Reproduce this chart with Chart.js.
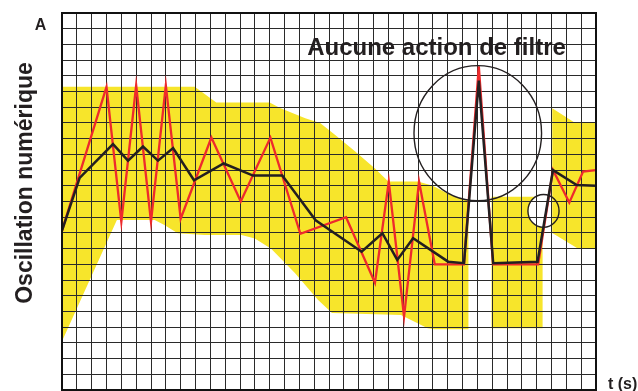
<!DOCTYPE html>
<html lang="fr">
<head>
<meta charset="utf-8">
<title>Oscillation numérique</title>
<script src="https://cdn.jsdelivr.net/npm/chart.js@4.4.1/dist/chart.umd.min.js"></script>
<style>
    html, body { margin: 0; padding: 0; background: #fff; }
    canvas { display: block; }
</style>
</head>
<body>
<canvas id="oscChart" width="638" height="391"></canvas>
<script>
// Grid: 36 time columns x 24 amplitude rows
const tMax = 36;
const aMax = 24;

// Red trace - raw signal
const rawT = [0, 3, 4, 5, 6, 7, 8, 10.07, 12.05, 14.05, 16.07, 19.15, 21.1, 22.03, 23.06, 24.07, 25.13, 27.1, 28.1, 29.06, 32.1, 33.1, 34.2, 35.13, 36];
const rawA = [10.15, 19.3, 10.7, 19.4, 10.7, 19.4, 10.9, 16.07, 12.0, 16.07, 9.94, 11.0, 6.83, 13.27, 4.67, 13.27, 8.0, 8.0, 20.6, 8.0, 8.0, 14.0, 11.93, 13.9, 14.0];

// Black trace - filtered signal
const filtT = [0, 1.19, 3.44, 4.45, 5.46, 6.47, 7.49, 8.9, 10.9, 12.88, 14.85, 17.1, 20.2, 21.6, 22.6, 23.67, 26.03, 27.1, 28.1, 29.07, 32.06, 33.1, 34.7, 36];
const filtA = [10.15, 13.5, 15.65, 14.6, 15.5, 14.6, 15.4, 13.35, 14.42, 13.65, 13.65, 10.8, 8.8, 9.98, 8.28, 9.66, 8.17, 8.07, 19.7, 8.07, 8.17, 14.0, 13.05, 13.0];

// Yellow tolerance band, three closed shapes
const bandMainT = [0, 8.95, 10.4, 14.0, 14.7, 16.4, 17.4, 18.4, 19.75, 21.1, 22.0, 24.0, 25.0, 25.8, 26.6, 27.4, 27.4, 25.1, 24.65, 22.85, 18.2, 17.25, 15.7, 14.1, 13.0, 12.1, 9.6, 7.8, 6.9, 6.25, 3.7, 0];
const bandMainA = [19.3, 19.3, 18.3, 18.3, 17.95, 17.3, 17.0, 16.25, 15.2, 14.1, 13.27, 13.27, 13.0, 12.6, 12.25, 12.05, 3.87, 3.87, 3.93, 4.78, 4.9, 5.75, 7.45, 9.0, 9.65, 9.87, 9.87, 9.98, 10.5, 10.83, 10.83, 3.1];
const bandMidT = [28.96, 31.88, 31.55, 31.42, 31.5, 31.75, 32.05, 32.4, 32.4, 28.96];
const bandMidA = [12.3, 12.3, 11.9, 11.4, 10.9, 10.6, 10.42, 10.36, 3.93, 3.93];
const bandRightT = [33.05, 34.6, 36, 36, 34.8, 33.05];
const bandRightA = [17.94, 17.0, 17.0, 9.0, 9.0, 10.0];

// Highlight rings (centre t, centre a, radius in grid units)
const ringT = [28.03, 32.46];
const ringA = [16.35, 11.4];
const ringR = [4.3, 1.05];

const colors = {
    band: '#F7E52B',
    raw: '#EE2A2C',
    filt: '#231F20',
    grid: '#2a2a2a',
    ink: '#231F20'
};

const toPoints = (xs, ys) => xs.map((x, i) => ({ x: x, y: ys[i] }));

const bandSet = (xs, ys) => ({
    data: toPoints(xs, ys),
    backgroundColor: colors.band,
    borderWidth: 0,
    pointRadius: 0,
    fill: 'shape',
    order: 3
});

const overlay = {
    id: 'overlay',
    afterDatasetsDraw(chart) {
        const { ctx, scales: { x, y } } = chart;
        ctx.save();
        ctx.strokeStyle = colors.ink;
        ctx.lineWidth = 1.4;
        ringT.forEach((t, i) => {
            const cx = x.getPixelForValue(t);
            const cy = y.getPixelForValue(ringA[i]);
            const rx = x.getPixelForValue(t + ringR[i]) - cx;
            const ry = cy - y.getPixelForValue(ringA[i] + ringR[i]);
            ctx.beginPath();
            ctx.ellipse(cx, cy, rx, ry, 0, 0, Math.PI * 2);
            ctx.stroke();
        });
        ctx.restore();
    },
    afterDraw(chart) {
        const { ctx, chartArea: a } = chart;
        ctx.save();
        // frame
        ctx.strokeStyle = '#111';
        ctx.lineWidth = 2;
        ctx.strokeRect(a.left, a.top, a.right - a.left, a.bottom - a.top);

        ctx.fillStyle = colors.ink;
        ctx.textAlign = 'center';
        ctx.textBaseline = 'alphabetic';
        ctx.font = 'bold 16px "Liberation Sans", Arial, sans-serif';
        ctx.fillText('A', 40.5, 30);

        ctx.font = 'bold 24px "Liberation Sans", Arial, sans-serif';
        ctx.fillText('Aucune action de filtre', 436.5, 55);

        ctx.textAlign = 'left';
        ctx.font = 'bold 16px "Liberation Sans", Arial, sans-serif';
        ctx.fillText('t (s)', 608, 389);

        ctx.translate(31.5, 183);
        ctx.rotate(-Math.PI / 2);
        ctx.textAlign = 'center';
        ctx.font = 'bold 23px "Liberation Sans", Arial, sans-serif';
        ctx.fillText('Oscillation numérique', 0, 0);
        ctx.restore();
    }
};

const ctx = document.getElementById('oscChart').getContext('2d');
new Chart(ctx, {
    type: 'line',
    data: {
        datasets: [
            {
                data: toPoints(filtT, filtA),
                borderColor: colors.filt,
                borderWidth: 2.5,
                pointRadius: 0,
                fill: false,
                tension: 0,
                order: 1
            },
            {
                data: toPoints(rawT, rawA),
                borderColor: colors.raw,
                borderWidth: 2.3,
                pointRadius: 0,
                fill: false,
                tension: 0,
                order: 2
            },
            bandSet(bandMainT, bandMainA),
            bandSet(bandMidT, bandMidA),
            bandSet(bandRightT, bandRightA)
        ]
    },
    options: {
        responsive: false,
        devicePixelRatio: 1,
        animation: false,
        layout: {
            padding: { left: 62, top: 13, right: 42, bottom: 1 }
        },
        scales: {
            x: {
                type: 'linear',
                min: 0,
                max: tMax,
                ticks: { display: false, stepSize: 1 },
                grid: { color: colors.grid, lineWidth: 1, drawTicks: false },
                border: { display: false }
            },
            y: {
                type: 'linear',
                min: 0,
                max: aMax,
                ticks: { display: false, stepSize: 1 },
                grid: { color: colors.grid, lineWidth: 1, drawTicks: false },
                border: { display: false }
            }
        },
        plugins: {
            filler: { drawTime: 'beforeDraw' },
            legend: { display: false },
            tooltip: { enabled: false }
        }
    },
    plugins: [overlay]
});
</script>
</body>
</html>
